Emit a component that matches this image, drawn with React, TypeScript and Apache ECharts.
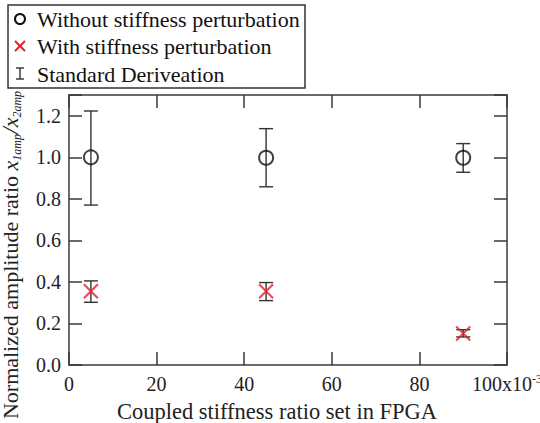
import React, { useEffect, useRef } from "react";
import * as echarts from "echarts";

const xValues = [5, 45, 90];
const withoutMean = [1.0, 0.998, 0.998];
const withoutLow = [0.77, 0.858, 0.928];
const withoutHigh = [1.223, 1.138, 1.066];
const withMean = [0.355, 0.355, 0.152];
const withLow = [0.302, 0.31, 0.135];
const withHigh = [0.405, 0.397, 0.17];

const legendLabels = [
  "Without stiffness perturbation",
  "With stiffness perturbation",
  "Standard Deriveation",
];

const FONT = "Liberation Serif";
const AXIS = "#3a3a3a";
const RED = "#e5202a";

export default function App() {
  const ref = useRef<HTMLDivElement>(null);
  useEffect(() => {
    const chart = echarts.init(ref.current!, undefined, { renderer: "svg" });
    const errRender = (params: any, api: any) => {
      const x = api.value(0);
      const lo = api.value(1);
      const hi = api.value(2);
      const p1 = api.coord([x, lo]);
      const p2 = api.coord([x, hi]);
      const w = 7;
      const st = { stroke: "#333", lineWidth: 1.4 };
      return {
        type: "group",
        children: [
          { type: "line", shape: { x1: p1[0], y1: p1[1], x2: p2[0], y2: p2[1] }, style: st },
          { type: "line", shape: { x1: p1[0] - w, y1: p1[1], x2: p1[0] + w, y2: p1[1] }, style: st },
          { type: "line", shape: { x1: p2[0] - w, y1: p2[1], x2: p2[0] + w, y2: p2[1] }, style: st },
        ],
      };
    };
    const mk = () => ({
      min: 0,
      nameMoveOverlap: false,
      axisLine: { show: true, onZero: false, lineStyle: { color: AXIS, width: 1.5 } },
      axisTick: { show: true, inside: true, length: 13, lineStyle: { color: AXIS, width: 1.5 } },
      splitLine: { show: false },
    });
    const option: any = {
      animation: false,
      grid: { left: 69, right: 33, top: 95, bottom: 58, containLabel: false, outerBoundsMode: "none" },
      xAxis: [
        {
          ...mk(),
          type: "value",
          max: 100,
          interval: 20,
          position: "bottom",
          name: "Coupled stiffness ratio set in FPGA",
          nameLocation: "middle",
          nameGap: 35,
          nameTextStyle: { fontFamily: FONT, fontSize: 22.5, color: "#222", padding: [0, 22, 0, 0] },
          axisLabel: {
            fontFamily: FONT,
            fontSize: 20,
            color: "#222",
            margin: 8,
            lineHeight: 22,
            formatter: (v: number) => (v === 100 ? "100x10{sup|-3}" : String(v)),
            rich: {
              sup: { fontFamily: FONT, fontSize: 12, color: "#222", verticalAlign: "top", lineHeight: 12 },
            },
          },
        },
        {
          ...mk(),
          type: "value",
          max: 100,
          interval: 20,
          position: "top",
          axisLabel: { show: false },
        },
      ],
      yAxis: [
        {
          ...mk(),
          type: "value",
          max: 1.3,
          interval: 0.2,
          position: "left",
          name: "{n|Normalized amplitude ratio }{i|x}{s|1amp}{sl|/}{i|x}{s|2amp}",
          nameLocation: "middle",
          nameRotate: 90,
          nameGap: 46,
          nameTextStyle: {
            padding: [0, 50, 0, 0],
            rich: {
              n: { fontFamily: FONT, fontSize: 22, color: "#222", lineHeight: 26, verticalAlign: "middle" },
              i: { fontFamily: FONT, fontSize: 22, fontStyle: "italic", color: "#222", lineHeight: 26, verticalAlign: "middle" },
              sl: { fontFamily: FONT, fontSize: 24, fontStyle: "italic", color: "#222", lineHeight: 26, verticalAlign: "middle" },
              s: { fontFamily: FONT, fontSize: 12, fontStyle: "italic", color: "#222", lineHeight: 14, verticalAlign: "bottom" },
            },
          },
          axisLabel: {
            fontFamily: FONT,
            fontSize: 20,
            color: "#222",
            margin: 8,
            formatter: (v: number) => (v > 1.25 ? "" : v.toFixed(1)),
          },
        },
        {
          ...mk(),
          type: "value",
          max: 1.3,
          interval: 0.2,
          position: "right",
          axisLabel: { show: false },
        },
      ],
      series: [
        {
          type: "custom",
          renderItem: errRender,
          xAxisIndex: 0,
          yAxisIndex: 0,
          encode: { x: 0, y: [1, 2] },
          data: xValues.map((x, i) => [x, withoutLow[i], withoutHigh[i]]),
          z: 2,
        },
        {
          type: "custom",
          renderItem: errRender,
          xAxisIndex: 0,
          yAxisIndex: 0,
          encode: { x: 0, y: [1, 2] },
          data: xValues.map((x, i) => [x, withLow[i], withHigh[i]]),
          z: 2,
        },
        {
          type: "scatter",
          name: legendLabels[0],
          xAxisIndex: 0,
          yAxisIndex: 0,
          symbol: "circle",
          symbolSize: 14,
          itemStyle: { color: "transparent", borderColor: "#111", borderWidth: 2 },
          data: xValues.map((x, i) => [x, withoutMean[i]]),
          z: 3,
        },
        {
          type: "scatter",
          name: legendLabels[1],
          xAxisIndex: 0,
          yAxisIndex: 0,
          symbol: "path://M0,0L10,10M10,0L0,10",
          symbolSize: 14,
          itemStyle: { color: "none", borderColor: RED, borderWidth: 2.2 },
          data: xValues.map((x, i) => [x, withMean[i]]),
          z: 3,
        },
      ],
      graphic: [
        {
          type: "rect",
          shape: { x: 8, y: 5, width: 297, height: 83 },
          style: { fill: "#fff", stroke: "#333", lineWidth: 1.5 },
          z: 10,
        },
        {
          type: "circle",
          shape: { cx: 20, cy: 19, r: 5 },
          style: { fill: "none", stroke: "#111", lineWidth: 2 },
          z: 11,
        },
        { type: "line", shape: { x1: 15, y1: 41, x2: 25, y2: 51 }, style: { stroke: RED, lineWidth: 2 }, z: 11 },
        { type: "line", shape: { x1: 25, y1: 41, x2: 15, y2: 51 }, style: { stroke: RED, lineWidth: 2 }, z: 11 },
        { type: "line", shape: { x1: 20, y1: 68, x2: 20, y2: 79 }, style: { stroke: "#333", lineWidth: 1.4 }, z: 11 },
        { type: "line", shape: { x1: 16, y1: 68, x2: 24, y2: 68 }, style: { stroke: "#333", lineWidth: 1.4 }, z: 11 },
        { type: "line", shape: { x1: 16, y1: 79, x2: 24, y2: 79 }, style: { stroke: "#333", lineWidth: 1.4 }, z: 11 },
        ...legendLabels.map((t, i) => ({
          type: "text",
          x: 37,
          y: 19 + i * 27.5,
          style: {
            text: t,
            fontFamily: FONT,
            fontSize: 22,
            fill: "#111",
            verticalAlign: "middle",
            align: "left",
          },
          z: 11,
        })),
      ],
    };
    chart.setOption(option);
    return () => chart.dispose();
  }, []);
  return (
    <div
      ref={ref}
      style={{ position: "absolute", left: 0, top: 0, width: 540, height: 423 }}
    />
  );
}
